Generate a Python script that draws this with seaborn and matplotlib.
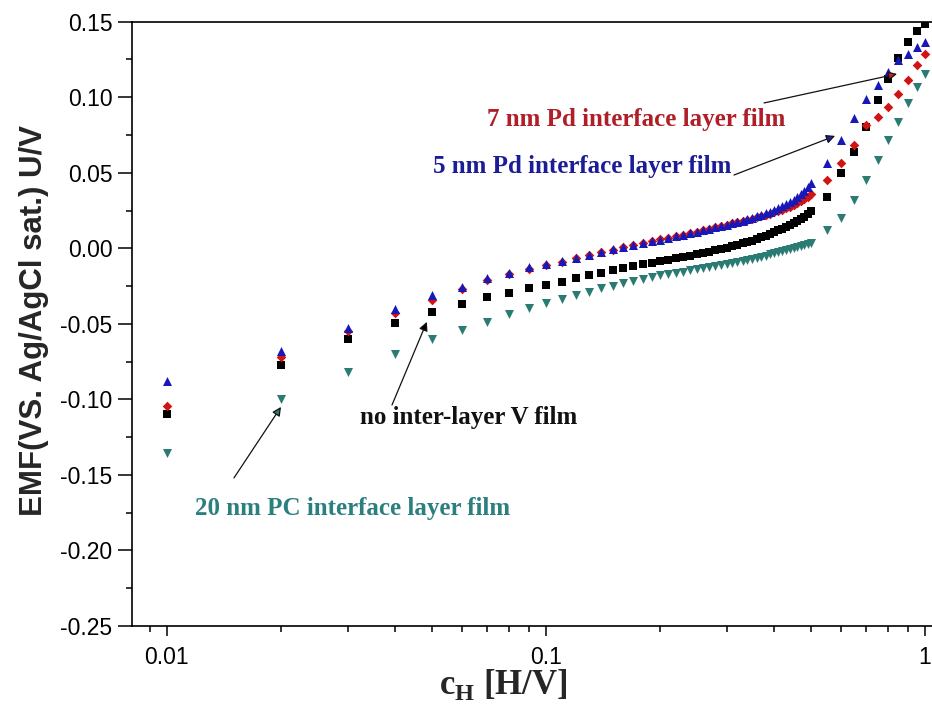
import matplotlib
matplotlib.use("Agg")
import matplotlib.pyplot as plt
import matplotlib.ticker as mticker
import seaborn as sns
import pandas as pd

# Hydrogen concentration c_H [H/V]
c_h = [0.01, 0.02, 0.03, 0.04, 0.05, 0.06, 0.07, 0.08, 0.09, 0.10,
       0.11, 0.12, 0.13, 0.14, 0.15, 0.16, 0.17, 0.18, 0.19, 0.20,
       0.21, 0.22, 0.23, 0.24, 0.25, 0.26, 0.27, 0.28, 0.29, 0.30,
       0.31, 0.32, 0.33, 0.34, 0.35, 0.36, 0.37, 0.38, 0.39, 0.40,
       0.41, 0.42, 0.43, 0.44, 0.45, 0.46, 0.47, 0.48, 0.49, 0.50,
       0.55, 0.60, 0.65, 0.70, 0.75, 0.80, 0.85, 0.90, 0.95, 1.00]

# EMF vs. Ag/AgCl (sat.) in V
emf_no_interlayer = [
    -0.1100, -0.0774, -0.0602, -0.0494, -0.0423, -0.0368, -0.0324, -0.0293, -0.0260, -0.0242,
    -0.0220, -0.0198, -0.0178, -0.0161, -0.0145, -0.0132, -0.0119, -0.0107, -0.0096, -0.0086,
    -0.0076, -0.0067, -0.0058, -0.0049, -0.0040, -0.0031, -0.0022, -0.0013, -0.0004, 0.0005,
    0.0014, 0.0023, 0.0032, 0.0041, 0.0051, 0.0061, 0.0072, 0.0083, 0.0094, 0.0106,
    0.0118, 0.0130, 0.0142, 0.0155, 0.0168, 0.0181, 0.0195, 0.0210, 0.0226, 0.0244,
    0.0342, 0.0497, 0.0640, 0.0800, 0.0982, 0.1119, 0.1258, 0.1368, 0.1440, 0.1485]

emf_pd_7nm = [
    -0.1045, -0.0717, -0.0547, -0.0426, -0.0342, -0.0270, -0.0210, -0.0170, -0.0135, -0.0110,
    -0.0088, -0.0066, -0.0046, -0.0026, -0.0008, 0.0009, 0.0022, 0.0035, 0.0047, 0.0059,
    0.0070, 0.0081, 0.0091, 0.0101, 0.0111, 0.0121, 0.0130, 0.0139, 0.0148, 0.0157,
    0.0165, 0.0173, 0.0181, 0.0189, 0.0197, 0.0205, 0.0213, 0.0221, 0.0229, 0.0238,
    0.0247, 0.0256, 0.0266, 0.0276, 0.0287, 0.0299, 0.0312, 0.0326, 0.0342, 0.0360,
    0.0452, 0.0567, 0.0684, 0.0816, 0.0871, 0.0933, 0.1020, 0.1114, 0.1213, 0.1286]

emf_pd_5nm = [
    -0.0880, -0.0680, -0.0525, -0.0400, -0.0310, -0.0254, -0.0198, -0.0161, -0.0126, -0.0103,
    -0.0082, -0.0062, -0.0044, -0.0024, -0.0006, 0.0008, 0.0021, 0.0034, 0.0046, 0.0058,
    0.0069, 0.0080, 0.0090, 0.0100, 0.0110, 0.0120, 0.0129, 0.0138, 0.0147, 0.0156,
    0.0165, 0.0174, 0.0183, 0.0192, 0.0201, 0.0211, 0.0221, 0.0231, 0.0242, 0.0253,
    0.0265, 0.0278, 0.0292, 0.0307, 0.0323, 0.0340, 0.0359, 0.0380, 0.0403, 0.0430,
    0.0567, 0.0717, 0.0864, 0.0988, 0.1081, 0.1169, 0.1247, 0.1286, 0.1335, 0.1368]

emf_pc_20nm = [
    -0.1357, -0.0999, -0.0816, -0.0699, -0.0600, -0.0540, -0.0485, -0.0434, -0.0397, -0.0364,
    -0.0337, -0.0309, -0.0287, -0.0264, -0.0247, -0.0230, -0.0216, -0.0203, -0.0191, -0.0180,
    -0.0171, -0.0162, -0.0154, -0.0146, -0.0139, -0.0132, -0.0125, -0.0118, -0.0111, -0.0104,
    -0.0097, -0.0090, -0.0083, -0.0076, -0.0069, -0.0062, -0.0055, -0.0048, -0.0041, -0.0034,
    -0.0027, -0.0020, -0.0013, -0.0006, 0.0001, 0.0008, 0.0015, 0.0022, 0.0030, 0.0038,
    0.0122, 0.0199, 0.0320, 0.0452, 0.0585, 0.0717, 0.0838, 0.0960, 0.1066, 0.1154]

x_tick_values = [0.01, 0.1, 1]
x_tick_labels = ["0.01", "0.1", "1"]

sns.set_style("ticks")
plt.rcParams["axes.unicode_minus"] = False
plt.rcParams["mathtext.fontset"] = "custom"
plt.rcParams["mathtext.rm"] = "Liberation Serif"
plt.rcParams["mathtext.bf"] = "Liberation Serif:bold"

fig = plt.figure(figsize=(9.32, 7.04), dpi=100)
ax = fig.add_axes([0.1416, 0.1108, 0.8584, 0.8584])

series = [
    (emf_no_interlayer, "s", "#000000", 32),
    (emf_pd_7nm, "D", "#d01414", 24),
    (emf_pd_5nm, "^", "#1818b8", 42),
    (emf_pc_20nm, "v", "#2a7b74", 42),
]
for values, marker, color, size in series:
    df = pd.DataFrame({"c_H": c_h, "EMF": values})
    sns.scatterplot(data=df, x="c_H", y="EMF", marker=marker, color=color,
                    s=size, linewidth=0, ax=ax, legend=False, zorder=3)

ax.set_xscale("log")
ax.set_xlim(0.00809, 1.043)
ax.set_ylim(-0.25, 0.15)

ax.xaxis.set_major_locator(mticker.FixedLocator(x_tick_values))
ax.xaxis.set_major_formatter(mticker.FixedFormatter(x_tick_labels))
ax.xaxis.set_minor_locator(mticker.LogLocator(base=10, subs=range(2, 10)))
ax.xaxis.set_minor_formatter(mticker.NullFormatter())
ax.yaxis.set_major_locator(mticker.MultipleLocator(0.05))
ax.yaxis.set_minor_locator(mticker.MultipleLocator(0.025))
ax.yaxis.set_major_formatter(mticker.FormatStrFormatter("%.2f"))

for lab in ax.get_xticklabels() + ax.get_yticklabels():
    lab.set_fontfamily("Liberation Sans")
ax.tick_params(axis="both", which="both", direction="out", width=1.1, colors="black")
ax.tick_params(axis="x", which="major", length=7.5, pad=7, labelsize=16.5)
ax.tick_params(axis="y", which="major", length=10, pad=4, labelsize=16.5)
ax.tick_params(axis="both", which="minor", length=4.3)

for side in ("left", "bottom", "top"):
    ax.spines[side].set_linewidth(1.2)
    ax.spines[side].set_color("black")
ax.spines["right"].set_visible(False)

ax.set_ylabel("EMF(VS. Ag/AgCl sat.) U/V", fontsize=22.5, fontweight="bold",
              fontfamily="Liberation Sans", va="center")
ax.yaxis.set_label_coords(-0.122, 0.505)
ax.set_xlabel(r"$\mathbf{c}_{\mathbf{H}}$ [H/V]", fontsize=25, fontweight="bold",
              fontfamily="Liberation Serif", va="center")
ax.xaxis.set_label_coords(0.464, -0.097)

label_font = dict(fontsize=18, fontweight="bold", fontfamily="Liberation Serif",
                  ha="center", va="center")
ax.text(0.1728, 0.0850, "7 nm Pd interface layer film", color="#b01e28", **label_font)
ax.text(0.1245, 0.0540, "5 nm Pd interface layer film", color="#1c1c96", **label_font)
ax.text(0.0626, -0.1123, "no inter-layer V film", color="#111111", **label_font)
ax.text(0.03086, -0.1725, "20 nm PC interface layer film", color="#2b7f7f", **label_font)

arrows = [
    ((0.376, 0.0962), (0.8434, 0.1154), "#c81e28"),
    ((0.3133, 0.0485), (0.5788, 0.0744), "#1c1cb0"),
    ((0.03925, -0.1037), (0.0485, -0.0487), "#000000"),
    ((0.01503, -0.152), (0.020, -0.105), "#2a7b74"),
]
for start, tip, head_color in arrows:
    ax.annotate("", xy=tip, xytext=start,
                arrowprops=dict(arrowstyle="-|>", lw=0.9, ec="#111111", fc=head_color,
                                mutation_scale=13, shrinkA=0, shrinkB=0),
                zorder=4)

fig.savefig("out.png", dpi=100)
